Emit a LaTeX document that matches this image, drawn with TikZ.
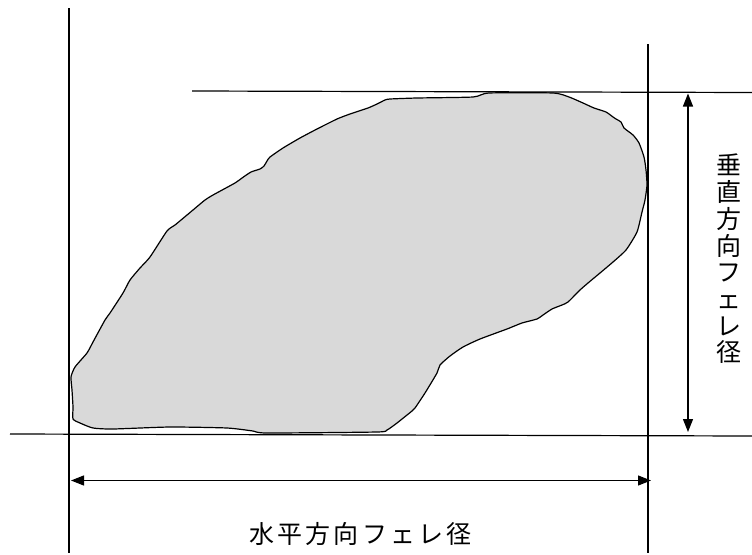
\documentclass[tikz,border=0pt]{standalone}
\usepackage{fontspec}
\newfontfamily\jph[LetterSpace=12.4]{Noto Sans CJK JP}
\newfontfamily\jpv{Noto Sans CJK JP}
\usetikzlibrary{arrows.meta}
\definecolor{blobgray}{RGB}{217,217,217}
\tikzset{
  guide/.style={line width=1.2pt, black},
  dimarrow/.style={line width=1.2pt, black, {Triangle[length=13pt,width=10pt]}-{Triangle[length=13pt,width=10pt]}},
  blob/.style={line width=1.2pt, black, fill=blobgray, line join=round},
  hlabel/.style={font=\jph\fontsize{25}{30}\selectfont, inner sep=0pt},
  vlabel/.style={font=\jpv\fontsize{25}{26.7}\selectfont, align=center, inner sep=0pt}
}
\begin{document}
\begin{tikzpicture}[x=1pt,y=-1pt]
\useasboundingbox (0,0) rectangle (752,554);
% particle outline
\draw[blob] plot[smooth cycle, tension=0.35] coordinates {
(71,377) (75,367) (87,353) (93,342) (105,320) (110,313) (123,293) (130,280)
(140,268) (150,257) (167,231) (175,225) (193,210) (205,200) (213,195) (235,183)
(242,178) (251,172) (260,169) (264,166) (267,161) (270,157) (283,148) (300,138)
(317,129) (337,119) (350,114) (368,108) (377,104) (385,100) (390,99) (417,98)
(473,97) (489,93) (553,93) (569,97) (583,103) (594,108) (606,112) (613,117)
(616,119) (621,122) (624,128) (633,135) (639,143) (644,157) (646,170) (647,185)
(645,200) (642,212) (637,232) (626,250) (613,262) (600,273) (588,283) (580,290)
(568,302) (562,305) (552,309) (543,315) (537,319) (522,323) (507,329) (480,339)
(463,347) (450,356) (440,365) (437,373) (425,393) (415,408) (412,411) (397,423)
(387,430) (377,432) (267,433) (253,431) (227,428) (170,427) (113,429) (93,428)
(80,423) (73,419) (73,407) (72,390)};
% guide lines
\coordinate (lt) at (69,8);   \coordinate (lb) at (69,553);
\coordinate (rt) at (648,44); \coordinate (rb) at (648,553);
\coordinate (tl) at (192,91); \coordinate (tr) at (752,92.5);
\coordinate (bl) at (10,434); \coordinate (br) at (752,436);
\draw[guide] (lt) -- (lb);
\draw[guide] (rt) -- (rb);
\draw[guide] (tl) -- (tr);
\draw[guide] (bl) -- (br);
% dimension arrows
\coordinate (ha) at (71,480.5); \coordinate (hb) at (651,480.5);
\coordinate (va) at (688,93.5); \coordinate (vb) at (688,432);
\draw[dimarrow] (ha) -- (hb);
\draw[dimarrow] (va) -- (vb);
% labels
\node[hlabel] (hl) at (360.5,534) {水平方向フェレ径};
\node[vlabel] (vl) at (728.5,259) {垂\\直\\方\\向\\フ\\ェ\\レ\\径};
\end{tikzpicture}
\end{document}
